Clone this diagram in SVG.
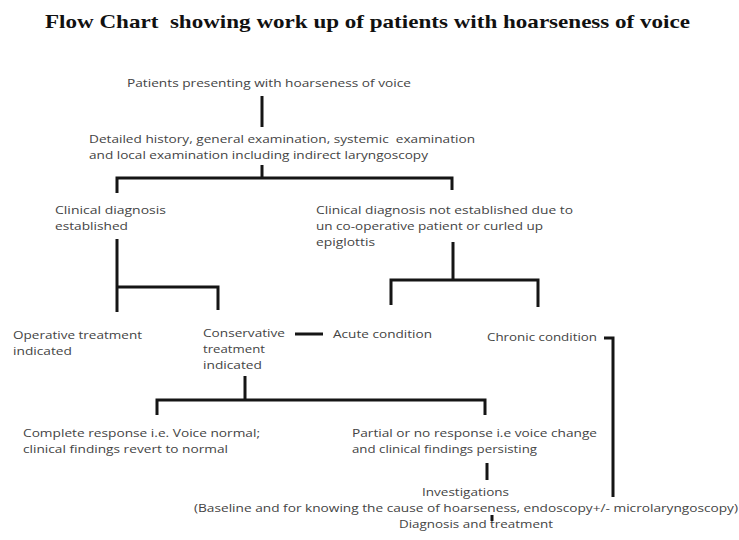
<svg xmlns="http://www.w3.org/2000/svg" width="739" height="540" viewBox="0 0 739 540">
<style>
.title{font-family:"Liberation Serif","Times New Roman",serif;font-weight:bold;font-size:19px;fill:#111;white-space:pre}
.t{font-family:"Open Sans","Noto Sans","Liberation Sans",sans-serif;font-size:11.6px;fill:#444;white-space:pre}
.c{fill:none;stroke:#151515;stroke-width:3;stroke-linecap:butt;stroke-linejoin:miter}
</style>
<rect width="739" height="540" fill="#fff"/>
<text class="title" x="45" y="28" textLength="645" lengthAdjust="spacingAndGlyphs">Flow Chart  showing work up of patients with hoarseness of voice</text>

<g id="n1"><text class="t" x="127" y="87" textLength="284" lengthAdjust="spacingAndGlyphs">Patients presenting with hoarseness of voice</text></g>
<g id="n2">
<text class="t" x="89" y="143" textLength="386" lengthAdjust="spacingAndGlyphs">Detailed history, general examination, systemic  examination</text>
<text class="t" x="89" y="159" textLength="339" lengthAdjust="spacingAndGlyphs">and local examination including indirect laryngoscopy</text>
</g>
<g id="n3">
<text class="t" x="55" y="214" textLength="111" lengthAdjust="spacingAndGlyphs">Clinical diagnosis</text>
<text class="t" x="55" y="230" textLength="73" lengthAdjust="spacingAndGlyphs">established</text>
</g>
<g id="n4">
<text class="t" x="316" y="214" textLength="257" lengthAdjust="spacingAndGlyphs">Clinical diagnosis not established due to</text>
<text class="t" x="316" y="230" textLength="227" lengthAdjust="spacingAndGlyphs">un co-operative patient or curled up</text>
<text class="t" x="316" y="246" textLength="59" lengthAdjust="spacingAndGlyphs">epiglottis</text>
</g>
<g id="n5">
<text class="t" x="13" y="339" textLength="129" lengthAdjust="spacingAndGlyphs">Operative treatment</text>
<text class="t" x="13" y="355" textLength="59" lengthAdjust="spacingAndGlyphs">indicated</text>
</g>
<g id="n6">
<text class="t" x="203" y="337" textLength="82" lengthAdjust="spacingAndGlyphs">Conservative</text>
<text class="t" x="203" y="353" textLength="62" lengthAdjust="spacingAndGlyphs">treatment</text>
<text class="t" x="203" y="369" textLength="59" lengthAdjust="spacingAndGlyphs">indicated</text>
</g>
<g id="n7"><text class="t" x="333" y="338" textLength="99" lengthAdjust="spacingAndGlyphs">Acute condition</text></g>
<g id="n8"><text class="t" x="487" y="341" textLength="110" lengthAdjust="spacingAndGlyphs">Chronic condition</text></g>
<g id="n9">
<text class="t" x="23" y="437" textLength="237" lengthAdjust="spacingAndGlyphs">Complete response i.e. Voice normal;</text>
<text class="t" x="23" y="453" textLength="205" lengthAdjust="spacingAndGlyphs">clinical findings revert to normal</text>
</g>
<g id="n10">
<text class="t" x="352" y="437" textLength="245" lengthAdjust="spacingAndGlyphs">Partial or no response i.e voice change</text>
<text class="t" x="352" y="453" textLength="185" lengthAdjust="spacingAndGlyphs">and clinical findings persisting</text>
</g>
<g id="n11">
<text class="t" x="422" y="496" textLength="87" lengthAdjust="spacingAndGlyphs">Investigations</text>
<text class="t" x="194" y="512" textLength="544" lengthAdjust="spacingAndGlyphs">(Baseline and for knowing the cause of hoarseness, endoscopy+/- microlaryngoscopy)</text>
</g>
<g id="n12"><text class="t" x="399" y="528" textLength="154" lengthAdjust="spacingAndGlyphs">Diagnosis and treatment</text></g>

<g id="connectors">
<path class="c" d="M262,96 V127"/>
<path class="c" d="M262,165 V178"/>
<path class="c" d="M117,193 V178 H452 V190"/>
<path class="c" d="M117,239 V312"/>
<path class="c" d="M117,287 H218 V310"/>
<path class="c" d="M453,242 V280"/>
<path class="c" d="M391,305 V280 H538 V307"/>
<path class="c" d="M295,334 H323"/>
<path class="c" d="M604,338 H613 V497"/>
<path class="c" d="M245,376 V400"/>
<path class="c" d="M157,415 V400 H485 V415"/>
<path class="c" d="M487,463 V480"/>
<path class="c" d="M492,515 V521"/>
</g>
</svg>
